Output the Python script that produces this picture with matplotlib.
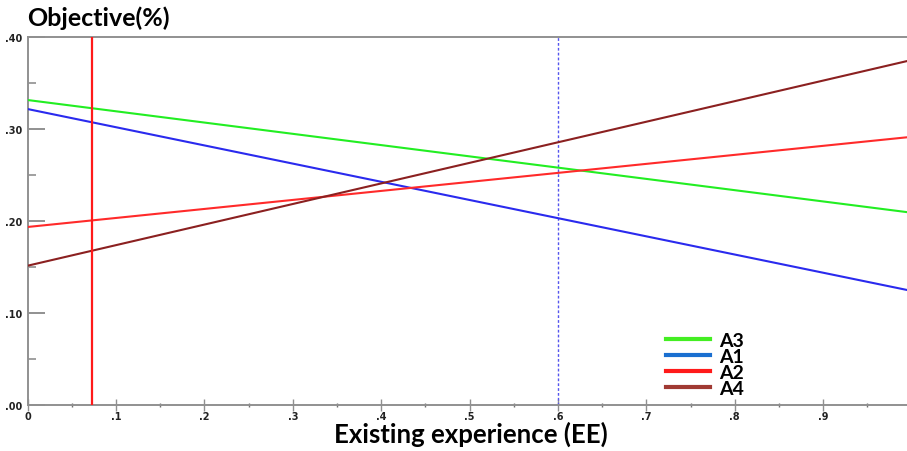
import matplotlib
matplotlib.use("Agg")
import matplotlib.pyplot as plt
from matplotlib.lines import Line2D
from matplotlib.ticker import MultipleLocator, FixedLocator
import numpy as np

# Data: each alternative's objective value at EE=0 and EE=1
series_names = ["A3", "A1", "A2", "A4"]
ee_points = [0.0, 1.0]
a3_values = [0.3315, 0.2090]
a1_values = [0.3217, 0.1240]
a2_values = [0.1935, 0.2915]
a4_values = [0.1514, 0.3750]
current_ee = 0.073
threshold_ee = 0.60

x_ticks = [0, 0.1, 0.2, 0.3, 0.4, 0.5, 0.6, 0.7, 0.8, 0.9]
x_tick_labels = ["0", ".1", ".2", ".3", ".4", ".5", ".6", ".7", ".8", ".9"]
y_ticks = [0.0, 0.1, 0.2, 0.3, 0.4]
y_tick_labels = [".00", ".10", ".20", ".30", ".40"]

line_colors = {"A3": "#22ee22", "A1": "#2a2aee", "A2": "#ff2a2a", "A4": "#8b2020"}
legend_colors = {"A3": "#44ee22", "A1": "#1a6fd0", "A2": "#ff1a1a", "A4": "#a03a33"}

fig = plt.figure(figsize=(9.07, 4.52), dpi=100)
ax = fig.add_axes([27.6 / 907, 1 - 406 / 452, 884 / 907, (406 - 38) / 452])

values = {"A3": a3_values, "A1": a1_values, "A2": a2_values, "A4": a4_values}
for name in series_names:
    ax.plot(ee_points, values[name], color=line_colors[name], lw=1.5, zorder=3)

ax.axvline(current_ee, color="#ff1a1a", lw=1.6, zorder=4)
ax.axvline(threshold_ee, color="#5555ee", lw=1.0, ls=(0, (2, 1.5)), zorder=2)

ax.set_xlim(0, 1.0)
ax.set_ylim(0, 0.40)

ax.xaxis.set_major_locator(FixedLocator(x_ticks))
ax.set_xticklabels(x_tick_labels)
ax.xaxis.set_minor_locator(MultipleLocator(0.05))
ax.yaxis.set_major_locator(FixedLocator(y_ticks))
ax.set_yticklabels(y_tick_labels)
ax.yaxis.set_minor_locator(MultipleLocator(0.05))

for s in ["left", "bottom", "top"]:
    ax.spines[s].set_color("#909090")
    ax.spines[s].set_linewidth(1.4)
ax.spines["right"].set_visible(False)

ax.tick_params(axis="x", which="major", direction="inout", length=8, width=1.0,
               color="#909090", labelsize=7, pad=0)
ax.tick_params(axis="x", which="minor", direction="inout", length=3, width=1.0, color="#707070")
ax.tick_params(axis="y", which="major", direction="in", length=12, width=1.4,
               color="#909090", labelsize=7, pad=4)
ax.tick_params(axis="y", which="minor", direction="in", length=6, width=1.2, color="#909090")
for lbl in ax.get_xticklabels() + ax.get_yticklabels():
    lbl.set_fontweight("bold")
    lbl.set_color("#222222")

fig.text(27 / 907, 1 - 18 / 452, "Objective(%)", fontsize=18, fontweight="bold",
         family="Lato", ha="left", va="center")
fig.text(471 / 907, 1 - 434 / 452, "Existing experience (EE)", fontsize=18.5,
         fontweight="bold", family="Lato", ha="center", va="center")

handles = [Line2D([0], [0], color=legend_colors[n], lw=3) for n in series_names]
leg = ax.legend(handles, series_names, loc="upper left",
                bbox_to_anchor=(656 / 907, 1 - 323 / 452), bbox_transform=fig.transFigure,
                frameon=False, handlelength=2.3, handletextpad=0.45, labelspacing=-0.05,
                prop={"family": "Lato", "weight": "bold", "size": 14}, borderpad=0)

fig.savefig("out.png", dpi=100)
